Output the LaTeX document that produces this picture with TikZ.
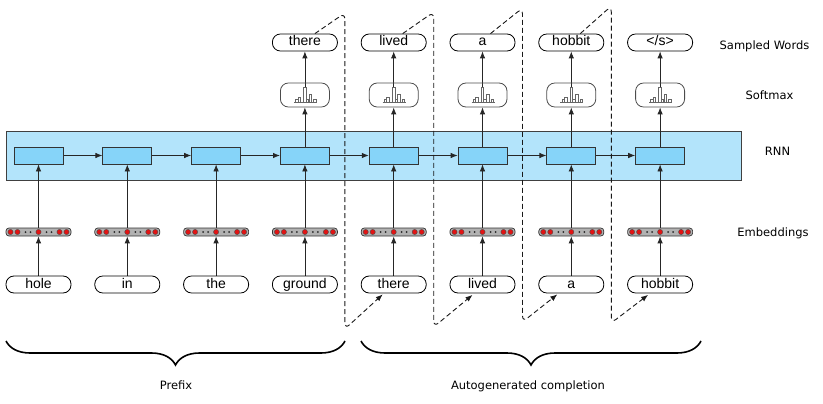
\documentclass[tikz,border=0pt]{standalone}
\usepackage{fontspec}
\setmainfont{Liberation Sans}
\newfontfamily\labfont{DejaVu Sans}
\usetikzlibrary{arrows.meta,calc,decorations.pathreplacing}
\pgfdeclarelayer{back}
\pgfdeclarelayer{lines}
\pgfsetlayers{back,lines,main}
\definecolor{rnnout}{RGB}{179,228,251}
\definecolor{rnncell}{RGB}{134,212,249}
\definecolor{dotred}{RGB}{225,20,20}
\tikzset{
  word/.style={draw=black, fill=white, rounded corners=8pt, minimum width=65pt, minimum height=17pt,
    inner sep=0pt, text height=10pt, text depth=3pt, font=\fontsize{14}{14}\selectfont, line width=0.8pt},
  smbox/.style={draw=black!70, rounded corners=8pt, minimum width=49pt, minimum height=24pt, inner sep=0pt, line width=0.8pt},
  cell/.style={draw=black!80, fill=rnncell, minimum width=49pt, minimum height=17pt, inner sep=0pt, line width=0.8pt},
  rnnbg/.style={draw=black!75, fill=rnnout, minimum width=735pt, minimum height=49pt, inner sep=0pt, line width=0.8pt},
  emb/.style={draw=black!80, fill=black!30, rounded corners=3pt, minimum width=65pt, minimum height=8pt, inner sep=0pt, line width=0.7pt},
  arr/.style={-{Latex[length=7pt,width=5.5pt]}, line width=0.8pt, black!85},
  sep/.style={dash pattern=on 5pt off 3pt, rounded corners=6pt, line width=0.9pt, black!90},
  lab/.style={font=\labfont\fontsize{11.5}{13}\selectfont, anchor=base},
  brc/.style={decorate, decoration={brace, mirror, amplitude=24pt}, line width=1.6pt},
  bar/.style={draw=black!60, fill=white, line width=0.6pt}
}
\begin{document}
\begin{tikzpicture}[x=1pt,y=-1pt]
\useasboundingbox (0,0) rectangle (823,404);
% RNN background
\begin{pgfonlayer}{back}
\node[rnnbg] (rnn) at (373.5,155.5) {};
\end{pgfonlayer}
% columns
\foreach \i/\x/\w in {1/38.5/hole,2/127.3/in,3/216.1/the,4/304.9/ground,5/393.7/there,6/482.5/lived,7/571.3/a,8/660.1/hobbit}{
  \node[word] (bw\i) at (\x,284.5) {\w};
  \node[emb] (e\i) at (\x,232) {};
  \node[cell] (c\i) at (\x,155.5) {};
}
\foreach \i/\x/\w in {4/304.9/there,5/393.7/lived,6/482.5/a,7/571.3/hobbit,8/660.1/{</s>}}{
  \node[smbox] (s\i) at (\x,95) {};
  \node[word] (t\i) at (\x,42.5) {\w};
}
% connectors
\begin{pgfonlayer}{lines}
\foreach \i in {1,...,8}{
  \draw[arr] (bw\i.north) -- (e\i.south);
  \draw[arr] (e\i.center) -- (c\i.south);
}
\foreach \i [evaluate=\i as \j using int(\i+1)] in {1,...,7}{
  \draw[arr] (c\i.east) -- (c\j.west);
}
\foreach \i in {4,...,8}{
  \draw[arr] (c\i.north) -- (s\i.south);
  \draw[arr] (s\i.center) -- (t\i.south);
}
\end{pgfonlayer}
% softmax histograms
\foreach \i in {4,...,8}{
  \begin{scope}[shift={(s\i.center)}]
    \foreach \a/\b/\h in {-9.5/-7/3,-7/-4.5/4.5,-1.4/1.2/15,1.2/3.6/3,4/6.5/8,8.5/11/3}{
      \draw[bar] (\a,7) rectangle (\b,7-\h);
    }
    \draw[black!60, line width=0.6pt] (-11,7) -- (12,7);
  \end{scope}
}
% embedding dots
\foreach \i in {1,...,8}{
  \begin{scope}[shift={(e\i.center)}]
    \foreach \d in {-28,-21,0,21,28}{
      \fill[dotred, draw=black!70, line width=0.4pt] (\d,0) circle (2.6);
    }
    \foreach \d in {-13,-8,8,13}{
      \fill[black!85] (\d,0) circle (1);
    }
  \end{scope}
}
% dashed feedback connectors
\draw[sep, -{Latex[length=7pt,width=5.5pt]}] ($(t4.north)+(10,0)$) -- (344.9,13) -- (344.9,329) -- ($(bw5.south)+(-11,1)$);
\draw[sep, -{Latex[length=7pt,width=5.5pt]}] ($(t5.north)+(9,0)$) -- (433.7,12) -- (433.7,327) -- ($(bw6.south)+(-10,1.5)$);
\draw[sep, -{Latex[length=7pt,width=5.5pt]}] ($(t6.north)+(8,0)$) -- (522.5,8) -- (522.5,322) -- ($(bw7.south)+(-14,1)$);
\draw[sep, -{Latex[length=7pt,width=5.5pt]}] ($(t7.north)+(9,0)$) -- (611.3,6) -- (611.3,323) -- ($(bw8.south)+(-12,1.5)$);
% braces
\coordinate (pa) at (6,341);
\coordinate (pb) at (345,341);
\coordinate (ga) at (361,341);
\coordinate (gb) at (701,341);
\draw[brc] (pa) -- (pb);
\draw[brc] (ga) -- (gb);
\node[lab] (prefix) at (176,389) {Prefix};
\node[lab] (auto) at (528,389) {Autogenerated completion};
% row labels
\node[lab] (lsw) at (764.5,50) {Sampled Words};
\node[lab] (lsm) at (769.5,99.3) {Softmax};
\node[lab] (lrnn) at (777.5,156) {RNN};
\node[lab] (lemb) at (773,236.7) {Embeddings};
\end{tikzpicture}
\end{document}
